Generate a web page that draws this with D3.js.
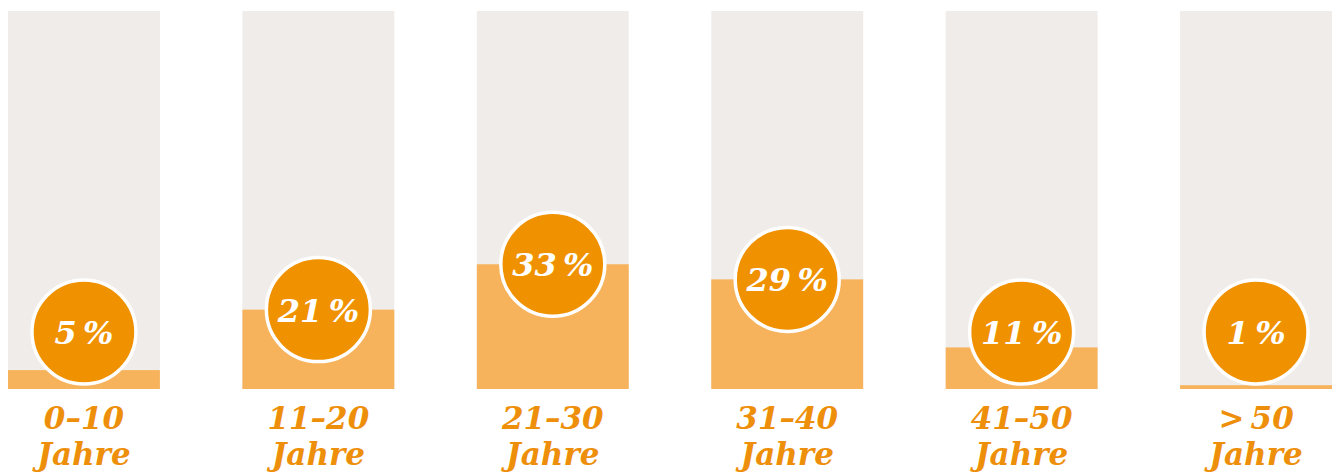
<!DOCTYPE html>
<html><head><meta charset="utf-8">
<script src="https://cdn.jsdelivr.net/npm/d3@7"></script>
<style>html,body{margin:0;padding:0;background:#fff}</style>
</head><body>
<svg id="c" width="1338" height="473"></svg>
<script>
const categories = ["0–10", "11–20", "21–30", "31–40", "41–50", ">\u200950"];
const line2 = ["Jahre", "Jahre", "Jahre", "Jahre", "Jahre", "Jahre"];
const values = [5, 21, 33, 29, 11, 1];
const valueLabels = ["5\u2009%", "21\u2009%", "33\u2009%", "29\u2009%", "11\u2009%", "1\u2009%"];

(function () {
const svg = d3.select("#c");
const plotTop = 11, plotBottom = 389;
const x = d3.scaleBand().domain(categories).range([8, 1332]).paddingInner(0.352).paddingOuter(0);
const y = d3.scaleLinear().domain([0, 100]).range([plotBottom, plotTop]);
const r = 52;
const font = "'DejaVu Serif', serif";

const g = svg.selectAll("g.col").data(categories).join("g").attr("class", "col");
g.append("rect").attr("x", d => x(d)).attr("width", x.bandwidth())
  .attr("y", y(100)).attr("height", y(0) - y(100)).attr("fill", "#f0ece9");
g.append("rect").attr("x", d => x(d)).attr("width", x.bandwidth())
  .attr("y", (d, i) => y(values[i])).attr("height", (d, i) => y(0) - y(values[i])).attr("fill", "#f7b35c");
const cy = i => Math.min(y(values[i]), plotBottom - 57);
g.append("circle").attr("cx", d => x(d) + x.bandwidth() / 2).attr("cy", (d, i) => cy(i))
  .attr("r", r).attr("fill", "#f09100").attr("stroke", "#fff").attr("stroke-width", 3.5);
g.append("text").attr("x", d => x(d) + x.bandwidth() / 2).attr("y", (d, i) => cy(i) + 12)
  .attr("text-anchor", "middle").attr("fill", "#fff")
  .style("font", `italic bold 32px ${font}`).text((d, i) => valueLabels[i]);
g.append("text").attr("x", d => x(d) + x.bandwidth() / 2).attr("y", 429)
  .attr("text-anchor", "middle").attr("fill", "#ee8f0b")
  .style("font", `italic bold 31px ${font}`).text(d => d);
g.append("text").attr("x", d => x(d) + x.bandwidth() / 2).attr("y", 465)
  .attr("text-anchor", "middle").attr("fill", "#ee8f0b")
  .style("font", `italic bold 31px ${font}`).text((d, i) => line2[i]);
})();
</script>
</body></html>
